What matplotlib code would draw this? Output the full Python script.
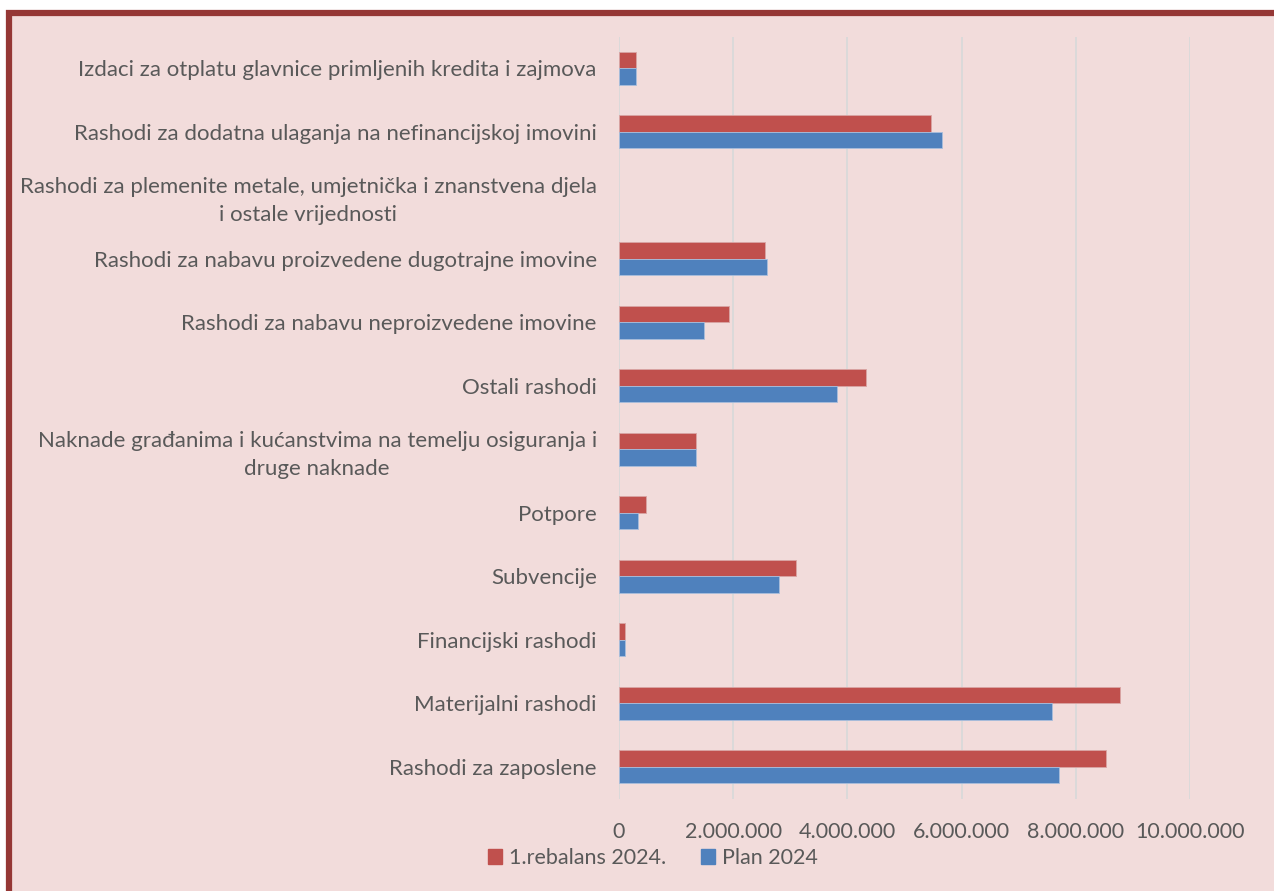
import matplotlib
matplotlib.use("Agg")
import matplotlib.pyplot as plt
from matplotlib.patches import Rectangle, Patch
from matplotlib.ticker import FuncFormatter

categories = [
    "Izdaci za otplatu glavnice primljenih kredita i zajmova",
    "Rashodi za dodatna ulaganja na nefinancijskoj imovini",
    "Rashodi za plemenite metale, umjetnička i znanstvena djela\ni ostale vrijednosti",
    "Rashodi za nabavu proizvedene dugotrajne imovine",
    "Rashodi za nabavu neproizvedene imovine",
    "Ostali rashodi",
    "Naknade građanima i kućanstvima na temelju osiguranja i\ndruge naknade",
    "Potpore",
    "Subvencije",
    "Financijski rashodi",
    "Materijalni rashodi",
    "Rashodi za zaposlene",
]
rebalans_2024 = [300000, 5470000, 0, 2550000, 1930000, 4330000, 1350000, 480000, 3100000, 100000, 8780000, 8530000]
plan_2024 = [300000, 5660000, 0, 2590000, 1480000, 3820000, 1350000, 340000, 2800000, 100000, 7590000, 7710000]
x_ticks = [0, 2000000, 4000000, 6000000, 8000000, 10000000]
series_names = ["1.rebalans 2024.", "Plan 2024"]

RED = "#C0504D"
BLUE = "#4F81BD"
BG = "#F2DCDB"
TXT = "#595959"
FONT = ["Lato", "DejaVu Sans"]
plt.rcParams["font.family"] = FONT
FS = 15.5

W, H = 1274, 891
fig = plt.figure(figsize=(W / 100, H / 100), dpi=100, facecolor="white")
frame = Rectangle((8.5 / W, -0.2), 1.2, 1.2 - 13 / H, transform=fig.transFigure,
                  facecolor=BG, edgecolor="#953735", linewidth=4.5, zorder=-5)
fig.patches.append(frame)

ax = fig.add_axes([619 / W, 1 - 798.5 / H, (1190 - 619) / W, (798.5 - 36.5) / H])
ax.set_facecolor("none")
ax.set_zorder(1)

n = len(categories)
ypos = [n - 1 - i for i in range(n)]
h = 0.262
ax.barh([y + h / 2 for y in ypos], rebalans_2024, height=h, color=RED,
        edgecolor="#D9A5A4", linewidth=[0.6 if v else 0 for v in rebalans_2024], zorder=3)
ax.barh([y - h / 2 for y in ypos], plan_2024, height=h, color=BLUE,
        edgecolor="#A9BEDC", linewidth=[0.6 if v else 0 for v in plan_2024], zorder=3)

ax.set_ylim(-0.5, n - 0.5)
ax.set_xlim(0, 10000000)
ax.set_yticks(ypos)
ax.set_yticklabels(categories, fontsize=16, color=TXT, ha="right", multialignment="center",
                   linespacing=1.5)
ax.set_xticks(x_ticks)
ax.xaxis.set_major_formatter(FuncFormatter(lambda v, p: f"{int(v):,}".replace(",", ".")))
for lab in ax.get_xticklabels():
    lab.set_fontsize(FS)
    lab.set_color(TXT)
ax.tick_params(axis="both", length=0)
ax.tick_params(axis="y", pad=16)
ax.tick_params(axis="x", pad=17)
for s in ax.spines.values():
    s.set_visible(False)
ax.grid(axis="x", color="#D9D9D9", linewidth=1.3, zorder=0)
ax.set_axisbelow(True)

handles = [Patch(facecolor=RED, edgecolor=RED), Patch(facecolor=BLUE, edgecolor=BLUE)]
fig.legend(handles, series_names, loc="center", bbox_to_anchor=(653 / W, 1 - 858 / H), ncol=2,
           frameon=False, fontsize=FS, labelcolor=TXT, handlelength=0.65, handleheight=0.65,
           handletextpad=0.35, columnspacing=1.6)

fig.savefig("out.png", dpi=100, facecolor="white")
